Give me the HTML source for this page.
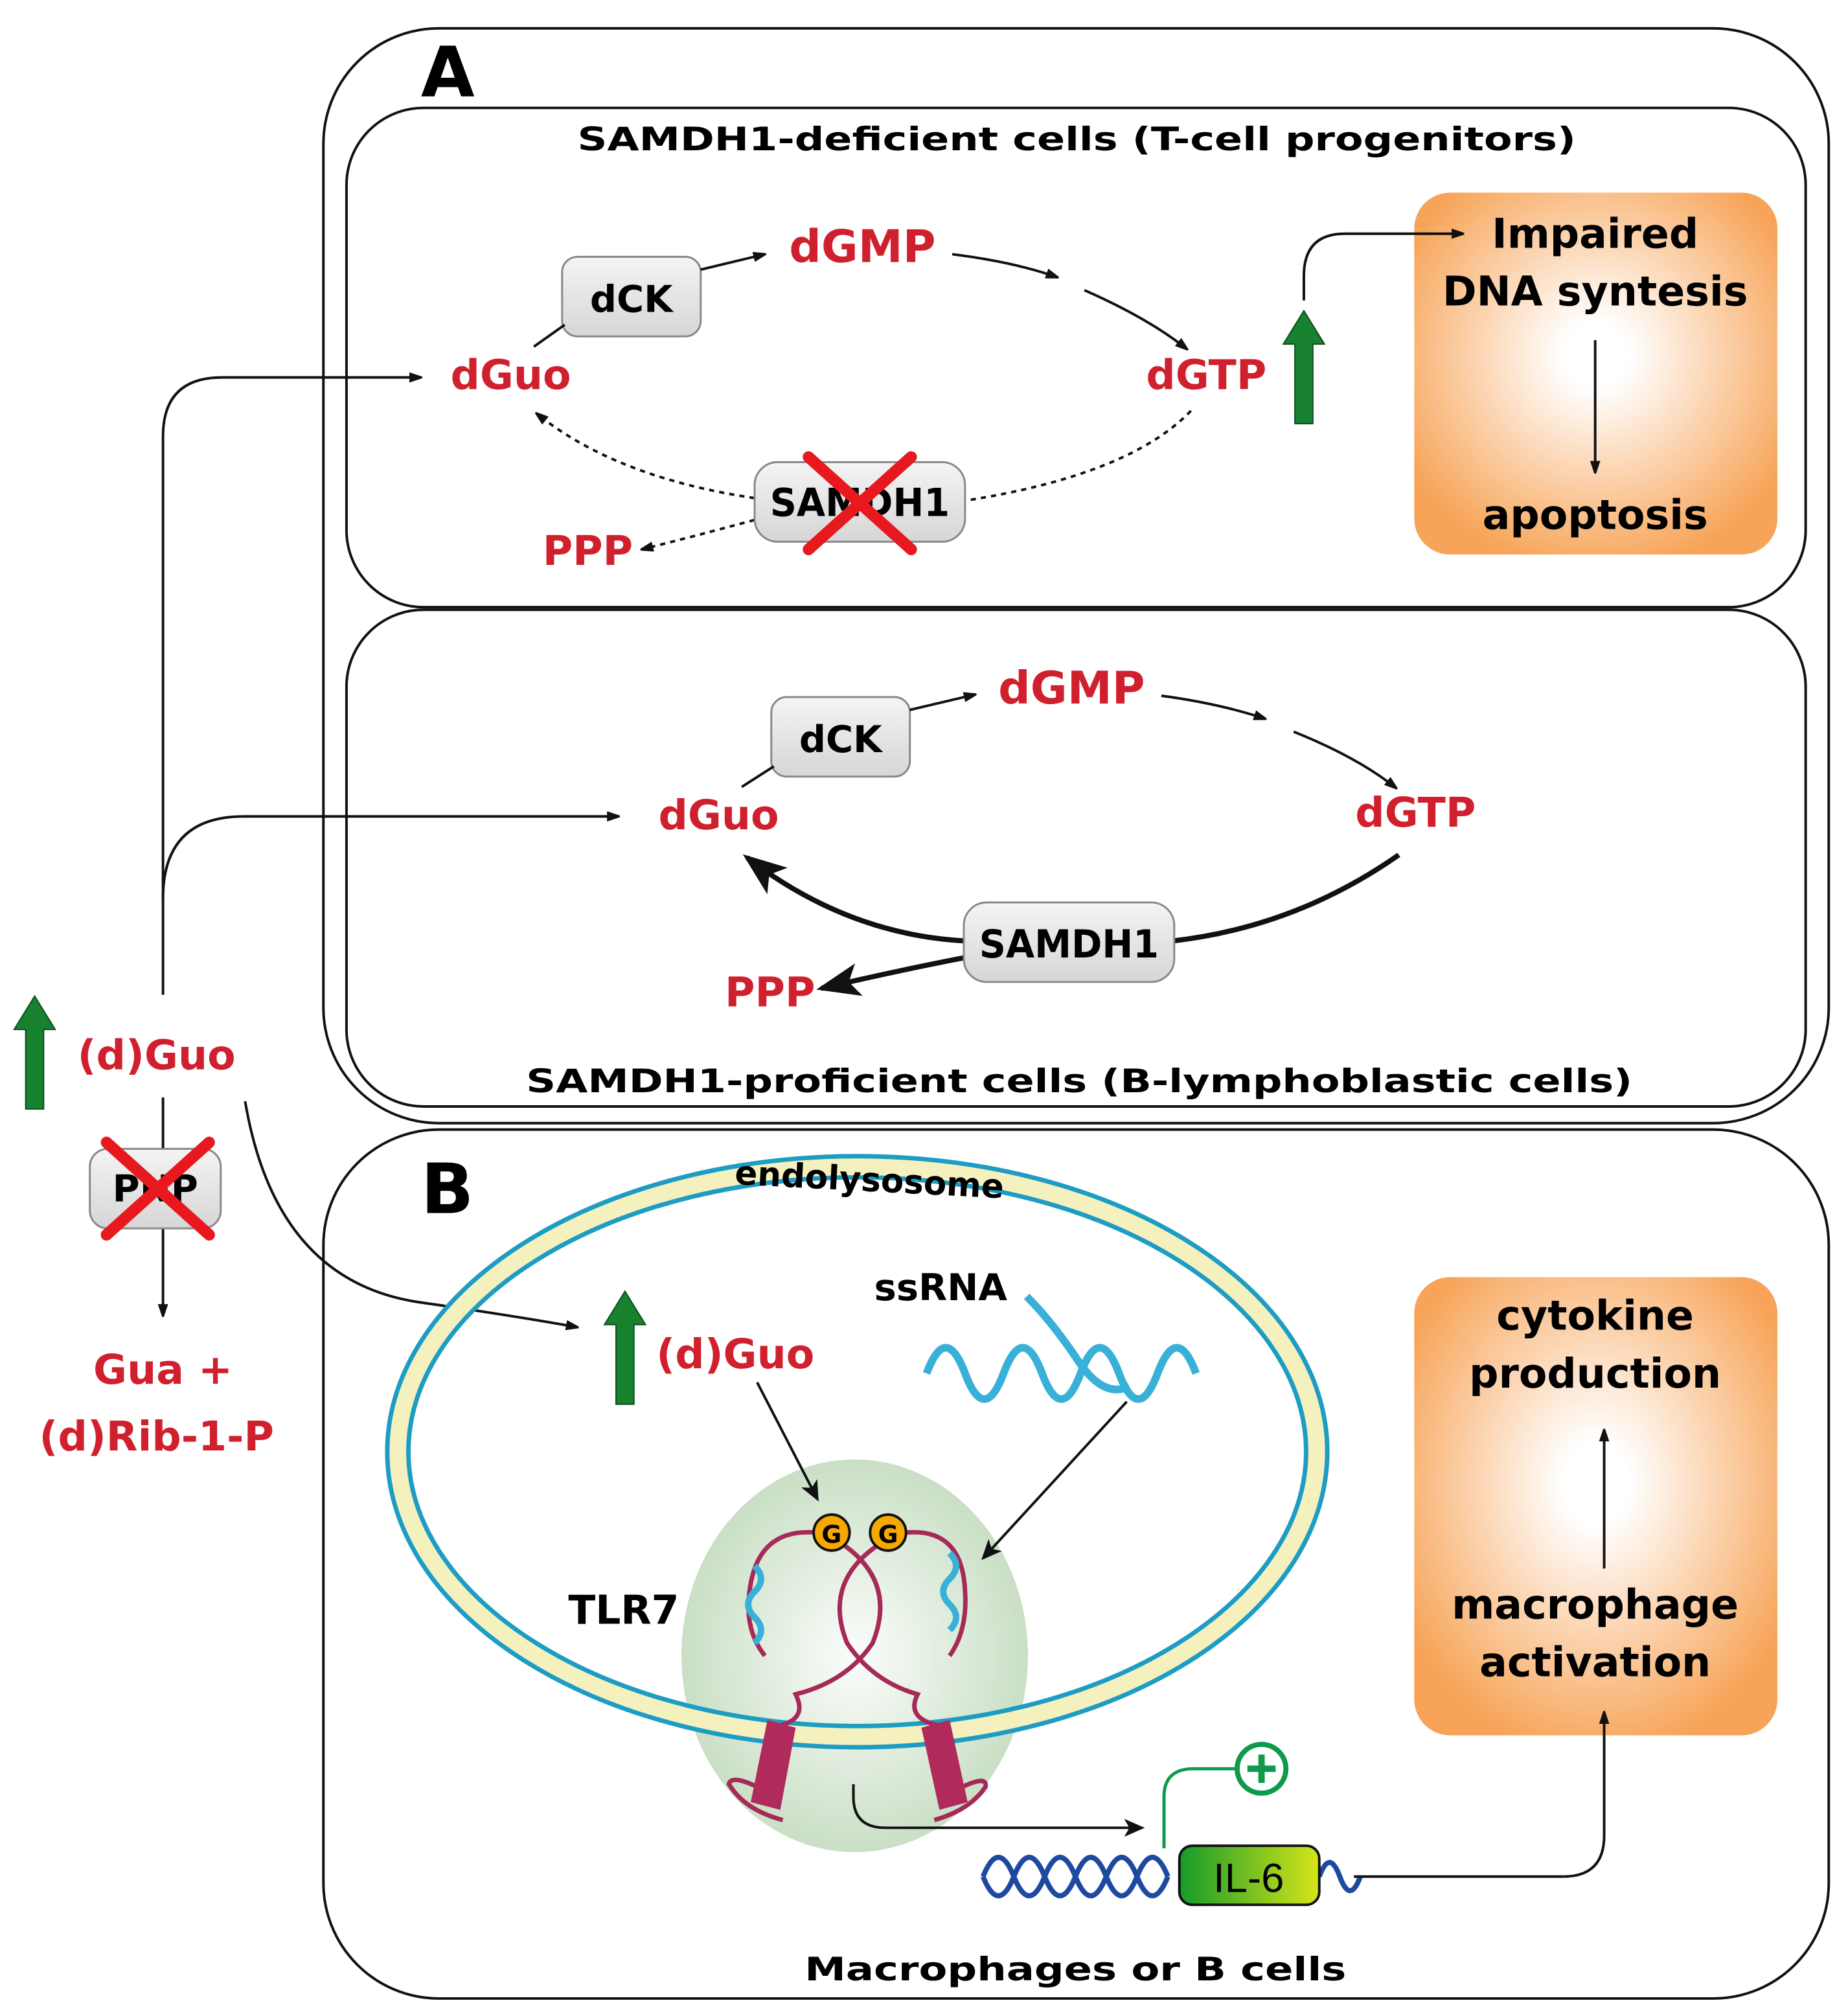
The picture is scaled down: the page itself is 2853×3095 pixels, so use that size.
<!DOCTYPE html>
<html><head><meta charset="utf-8"><style>
html,body{margin:0;padding:0;background:#fff}
svg{display:block}
text{font-family:"DejaVu Sans","Liberation Sans",sans-serif;font-weight:bold}
.r{fill:#d0202e}
</style></head><body>
<svg width="2853" height="3095" viewBox="0 0 1440 1562" xmlns="http://www.w3.org/2000/svg">
<defs>
<marker id="ah" markerWidth="10" markerHeight="8" refX="9" refY="4" orient="auto" markerUnits="userSpaceOnUse"><path d="M0,0L12,4L0,8z" fill="#111"/></marker>
<marker id="ah2" markerWidth="16" markerHeight="14" refX="14" refY="7" orient="auto" markerUnits="userSpaceOnUse"><path d="M0,0L16,7L0,14L4,7z" fill="#111"/></marker>
<marker id="big" markerWidth="34" markerHeight="26" refX="30" refY="13" orient="auto" markerUnits="userSpaceOnUse"><path d="M0,0L34,13L0,26L8,13z" fill="#111"/></marker>
<radialGradient id="og" cx="50%" cy="45%" r="60%"><stop offset="0.15" stop-color="#fff"/><stop offset="1" stop-color="#f7a458"/></radialGradient>
<radialGradient id="gg" cx="50%" cy="50%" r="55%"><stop offset="0" stop-color="#fbfdfb"/><stop offset="1" stop-color="#c5dcc0"/></radialGradient>
<linearGradient id="bx" x1="0" y1="0" x2="0" y2="1"><stop offset="0" stop-color="#f4f4f4"/><stop offset="1" stop-color="#d6d6d6"/></linearGradient>
<linearGradient id="il" x1="0" y1="0" x2="1" y2="0"><stop offset="0" stop-color="#169a2a"/><stop offset="1" stop-color="#d6e51a"/></linearGradient>
<g id="up"><path d="M0,-44L-16,-18L-7,-18L-7,44L7,44L7,-18L16,-18z" fill="#17812f" stroke="#0b4e1a" stroke-width="1"/></g>
<g id="xx"><path d="M-40,-36L40,36M-40,36L40,-36" stroke="#e8191e" stroke-width="9" stroke-linecap="round"/></g>
</defs>

<rect x="252" y="22" width="1173" height="853" rx="90" fill="none" stroke="#111" stroke-width="2"/>
<rect x="270" y="84" width="1137" height="389" rx="60" fill="none" stroke="#111" stroke-width="2"/>
<rect x="270" y="475" width="1137" height="387" rx="60" fill="none" stroke="#111" stroke-width="2"/>
<rect x="252" y="880" width="1173" height="677" rx="90" fill="none" stroke="#111" stroke-width="2"/>
<text x="328" y="75" font-size="54">A</text>
<text x="328" y="945" font-size="54">B</text>
<text x="450" y="117" font-size="25" textLength="778" lengthAdjust="spacingAndGlyphs">SAMDH1-deficient cells (T-cell progenitors)</text>
<text x="410" y="851" font-size="25" textLength="862" lengthAdjust="spacingAndGlyphs">SAMDH1-proficient cells (B-lymphoblastic cells)</text>
<text x="627" y="1543" font-size="25" textLength="422" lengthAdjust="spacingAndGlyphs">Macrophages or B cells</text>

<rect x="1102" y="150" width="283" height="282" rx="28" fill="url(#og)"/>
<text x="1243" y="193" font-size="32" text-anchor="middle">Impaired</text>
<text x="1243" y="238" font-size="32" text-anchor="middle">DNA syntesis</text>
<text x="1243" y="412" font-size="32" text-anchor="middle">apoptosis</text>
<line x1="1243" y1="265" x2="1243" y2="368" stroke="#111" stroke-width="2" marker-end="url(#ah)"/>
<rect x="1102" y="995" width="283" height="357" rx="28" fill="url(#og)"/>
<text x="1243" y="1036" font-size="32" text-anchor="middle">cytokine</text>
<text x="1243" y="1081" font-size="32" text-anchor="middle">production</text>
<text x="1243" y="1261" font-size="32" text-anchor="middle">macrophage</text>
<text x="1243" y="1306" font-size="32" text-anchor="middle">activation</text>
<line x1="1250" y1="1222" x2="1250" y2="1114" stroke="#111" stroke-width="2" marker-end="url(#ah)"/>

<text x="398" y="303" font-size="32" class="r" text-anchor="middle">dGuo</text>
<text x="672" y="204" font-size="35" class="r" text-anchor="middle">dGMP</text>
<text x="940" y="303" font-size="32" class="r" text-anchor="middle">dGTP</text>
<text x="458" y="440" font-size="32" class="r" text-anchor="middle">PPP</text>
<rect x="438" y="200" width="108" height="62" rx="12" fill="url(#bx)" stroke="#888" stroke-width="1.5"/>
<text x="492" y="243" font-size="29" text-anchor="middle">dCK</text>
<line x1="416" y1="270" x2="440" y2="253" stroke="#111" stroke-width="2"/>
<line x1="546" y1="210" x2="596" y2="198" stroke="#111" stroke-width="2" marker-end="url(#ah)"/>
<path d="M742,198Q790,204 824,216" fill="none" stroke="#111" stroke-width="2" marker-end="url(#ah)"/>
<path d="M845,226Q895,248 925,272" fill="none" stroke="#111" stroke-width="2" marker-end="url(#ah)"/>
<path d="M928,320Q880,370 752,390" fill="none" stroke="#111" stroke-width="2" stroke-dasharray="4,4"/>
<path d="M588,388Q480,372 418,322" fill="none" stroke="#111" stroke-width="2" stroke-dasharray="4,4" marker-end="url(#ah)"/>
<path d="M588,405Q540,418 500,428" fill="none" stroke="#111" stroke-width="2" stroke-dasharray="4,4" marker-end="url(#ah)"/>
<rect x="588" y="360" width="164" height="62" rx="18" fill="url(#bx)" stroke="#888" stroke-width="1.5"/>
<text x="670" y="402" font-size="30" text-anchor="middle" textLength="140" lengthAdjust="spacingAndGlyphs">SAMDH1</text>
<use href="#xx" x="670" y="392"/>
<use href="#up" x="1016" y="286"/>
<path d="M1016,234L1016,215Q1016,182 1048,182L1140,182" fill="none" stroke="#111" stroke-width="2" marker-end="url(#ah)"/>

<text x="560" y="646" font-size="32" class="r" text-anchor="middle">dGuo</text>
<text x="835" y="548" font-size="35" class="r" text-anchor="middle">dGMP</text>
<text x="1103" y="644" font-size="32" class="r" text-anchor="middle">dGTP</text>
<text x="600" y="784" font-size="32" class="r" text-anchor="middle">PPP</text>
<rect x="601" y="543" width="108" height="62" rx="12" fill="url(#bx)" stroke="#888" stroke-width="1.5"/>
<text x="655" y="586" font-size="29" text-anchor="middle">dCK</text>
<line x1="578" y1="613" x2="603" y2="597" stroke="#111" stroke-width="2"/>
<line x1="709" y1="553" x2="760" y2="541" stroke="#111" stroke-width="2" marker-end="url(#ah)"/>
<path d="M905,542Q950,548 986,560" fill="none" stroke="#111" stroke-width="2" marker-end="url(#ah)"/>
<path d="M1008,570Q1058,590 1088,614" fill="none" stroke="#111" stroke-width="2" marker-end="url(#ah)"/>
<path d="M1090,666Q1010,722 914,733" fill="none" stroke="#111" stroke-width="4"/>
<path d="M752,733Q660,728 582,668" fill="none" stroke="#111" stroke-width="4" marker-end="url(#big)"/>
<path d="M752,746Q700,756 640,770" fill="none" stroke="#111" stroke-width="4" marker-end="url(#big)"/>
<rect x="751" y="703" width="164" height="62" rx="18" fill="url(#bx)" stroke="#888" stroke-width="1.5"/>
<text x="833" y="746" font-size="30" text-anchor="middle" textLength="140" lengthAdjust="spacingAndGlyphs">SAMDH1</text>

<use href="#up" x="27" y="820"/>
<text x="122" y="833" font-size="32" class="r" text-anchor="middle">(d)Guo</text>
<path d="M127,775L127,340Q127,294 173,294L328,294" fill="none" stroke="#111" stroke-width="2" marker-end="url(#ah)"/>
<path d="M127,700Q127,636 190,636L482,636" fill="none" stroke="#111" stroke-width="2" marker-end="url(#ah)"/>
<line x1="127" y1="855" x2="127" y2="1025" stroke="#111" stroke-width="2" marker-end="url(#ah)"/>
<rect x="70" y="895" width="102" height="62" rx="14" fill="url(#bx)" stroke="#888" stroke-width="1.5"/>
<text x="121" y="936" font-size="29" text-anchor="middle">PNP</text>
<use href="#xx" x="123" y="926"/>
<text x="127" y="1078" font-size="32" class="r" text-anchor="middle">Gua +</text>
<text x="122" y="1130" font-size="32" class="r" text-anchor="middle">(d)Rib-1-P</text>
<path d="M191,858Q215,1000 330,1015Q400,1025 450,1034" fill="none" stroke="#111" stroke-width="2" marker-end="url(#ah)"/>

<ellipse cx="666" cy="1290" rx="135" ry="153" fill="url(#gg)"/>
<ellipse cx="668" cy="1131" rx="358" ry="222" fill="none" stroke="#1d9cc4" stroke-width="20"/>
<ellipse cx="668" cy="1131" rx="358" ry="222" fill="none" stroke="#f4f1bf" stroke-width="13"/>
<text x="677" y="928" font-size="26" text-anchor="middle" transform="rotate(3 677 928)">endolysosome</text>
<use href="#up" x="487" y="1050"/>
<text x="573" y="1066" font-size="32" class="r" text-anchor="middle">(d)Guo</text>
<text x="733" y="1013" font-size="29" text-anchor="middle">ssRNA</text>
<path d="M722,1070q15,-40 30,0t30,0t30,0t30,0t30,0t30,0t30,0M800,1010q20,20 40,50t40,20" fill="none" stroke="#38b0d8" stroke-width="6"/>
<text x="486" y="1265" font-size="31" text-anchor="middle">TLR7</text>
<line x1="590" y1="1077" x2="637" y2="1168" stroke="#111" stroke-width="2" marker-end="url(#ah2)"/>
<line x1="878" y1="1092" x2="766" y2="1214" stroke="#111" stroke-width="2" marker-end="url(#ah2)"/>
<g fill="none" stroke="#a52a58" stroke-width="3.5">
<path d="M636,1194Q590,1190 584,1240Q580,1270 596,1290"/>
<path d="M706,1194Q750,1190 752,1240Q754,1270 740,1290"/>
<path d="M652,1200Q700,1230 680,1280Q660,1310 620,1320Q630,1340 605,1345"/>
<path d="M690,1200Q640,1230 660,1280Q680,1310 715,1320Q705,1340 735,1345"/>
<path d="M605,1400Q570,1380 568,1390Q580,1410 610,1418"/>
<path d="M735,1400Q770,1380 768,1392Q756,1410 728,1418"/>
</g>
<path d="M598,1340L620,1346L608,1410L585,1404z" fill="#b02a5c"/>
<path d="M718,1346L740,1340L754,1404L732,1410z" fill="#b02a5c"/>
<path d="M588,1220q10,10 0,20t0,20t0,20M740,1210q10,10 0,20t0,20t0,20" fill="none" stroke="#38b0d8" stroke-width="5"/>
<circle cx="648" cy="1194" r="14" fill="#f5a800" stroke="#111" stroke-width="2"/>
<circle cx="692" cy="1194" r="14" fill="#f5a800" stroke="#111" stroke-width="2"/>
<text x="648" y="1202" font-size="19" text-anchor="middle">G</text>
<text x="692" y="1202" font-size="19" text-anchor="middle">G</text>
<path d="M665,1390L665,1400Q665,1424 690,1424L890,1424" fill="none" stroke="#111" stroke-width="2" marker-end="url(#ah2)"/>
<path d="M766,1462 q12,-30 24,0 t24,0 t24,0 t24,0 t24,0 t24,0 M766,1462 q12,30 24,0 t24,0 t24,0 t24,0 t24,0 t24,0 M1028,1462q8,-22 16,0q8,22 16,0" fill="none" stroke="#1d4aa0" stroke-width="4"/>
<line x1="1055" y1="1462" x2="1218" y2="1462" stroke="#111" stroke-width="2"/>
<path d="M1218,1462Q1250,1462 1250,1430L1250,1334" fill="none" stroke="#111" stroke-width="2" marker-end="url(#ah)"/>
<path d="M907,1440L907,1400Q907,1378 930,1378L962,1378" fill="none" stroke="#0e9a4a" stroke-width="2.5"/>
<circle cx="983" cy="1378" r="19" fill="#fff" stroke="#0e9a4a" stroke-width="4"/>
<path d="M983,1367v22M972,1378h22" stroke="#0e9a4a" stroke-width="5"/>
<rect x="919" y="1438" width="109" height="46" rx="10" fill="url(#il)" stroke="#111" stroke-width="2"/>
<text x="973" y="1474" font-size="32" text-anchor="middle" style="font-family:'Liberation Sans',sans-serif;font-weight:normal">IL-6</text>
</svg>
</body></html>
